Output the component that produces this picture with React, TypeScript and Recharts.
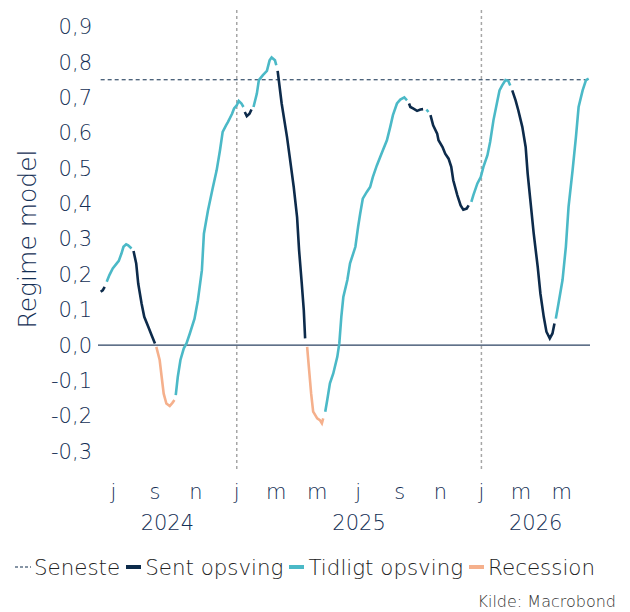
import React from 'react';
import { LineChart, Line, XAxis, YAxis, ReferenceLine } from 'recharts';

// observation dates (weekly-ish regime model readings)
const dates = [
  '2024-06-12', '2024-06-15', '2024-06-18', '2024-06-21', '2024-06-25', '2024-06-30', '2024-07-06', '2024-07-09', '2024-07-13', '2024-07-16',
  '2024-07-20', '2024-07-23', '2024-07-28', '2024-07-31', '2024-08-04', '2024-08-07', '2024-08-12', '2024-08-16', '2024-08-22', '2024-08-27',
  '2024-09-01', '2024-09-03', '2024-09-08', '2024-09-11', '2024-09-14', '2024-09-18', '2024-09-23', '2024-09-27', '2024-09-30', '2024-10-02',
  '2024-10-05', '2024-10-09', '2024-10-14', '2024-10-18', '2024-10-23', '2024-10-30', '2024-11-04', '2024-11-10', '2024-11-13', '2024-11-19',
  '2024-11-26', '2024-12-02', '2024-12-07', '2024-12-11', '2024-12-16', '2024-12-19', '2024-12-25', '2024-12-28', '2025-01-01', '2025-01-04',
  '2025-01-08', '2025-01-11', '2025-01-13', '2025-01-16', '2025-01-20', '2025-01-23', '2025-01-26', '2025-01-31', '2025-02-03', '2025-02-09',
  '2025-02-15', '2025-02-19', '2025-02-22', '2025-02-27', '2025-03-01', '2025-03-03', '2025-03-09', '2025-03-17', '2025-03-21', '2025-03-27',
  '2025-04-01', '2025-04-04', '2025-04-08', '2025-04-11', '2025-04-13', '2025-04-16', '2025-04-19', '2025-04-22', '2025-04-25', '2025-05-01',
  '2025-05-05', '2025-05-08', '2025-05-10', '2025-05-13', '2025-05-16', '2025-05-20', '2025-05-25', '2025-05-31', '2025-06-03', '2025-06-06',
  '2025-06-09', '2025-06-15', '2025-06-19', '2025-06-27', '2025-07-01', '2025-07-04', '2025-07-08', '2025-07-14', '2025-07-19', '2025-07-23',
  '2025-07-29', '2025-08-03', '2025-08-07', '2025-08-13', '2025-08-18', '2025-08-22', '2025-08-28', '2025-09-02', '2025-09-08', '2025-09-12',
  '2025-09-15', '2025-09-17', '2025-09-21', '2025-09-27', '2025-10-02', '2025-10-06', '2025-10-11', '2025-10-14', '2025-10-17', '2025-10-21',
  '2025-10-27', '2025-10-29', '2025-11-04', '2025-11-08', '2025-11-13', '2025-11-17', '2025-11-20', '2025-11-26', '2025-12-01', '2025-12-05',
  '2025-12-10', '2025-12-13', '2025-12-17', '2025-12-20', '2025-12-26', '2025-12-31', '2026-01-04', '2026-01-10', '2026-01-14', '2026-01-19',
  '2026-01-25', '2026-01-28', '2026-02-01', '2026-02-06', '2026-02-10', '2026-02-13', '2026-02-16', '2026-02-21', '2026-02-25', '2026-03-03',
  '2026-03-08', '2026-03-11', '2026-03-15', '2026-03-20', '2026-03-26', '2026-03-30', '2026-04-04', '2026-04-08', '2026-04-13', '2026-04-17',
  '2026-04-20', '2026-04-22', '2026-04-26', '2026-05-02', '2026-05-07', '2026-05-11', '2026-05-17', '2026-05-22', '2026-05-26', '2026-06-01',
  '2026-06-06', '2026-06-10',
];

const regime = [
  0.151, 0.155, 0.165, 0.179, 0.198, 0.217, 0.231, 0.238, 0.259, 0.278,
  0.285, 0.282, 0.273, 0.266, 0.231, 0.174, 0.118, 0.080, 0.052, 0.028,
  0.005, -0.005, -0.042, -0.090, -0.137, -0.165, -0.172, -0.163, -0.155, -0.141,
  -0.090, -0.042, -0.009, 0.005, 0.033, 0.075, 0.127, 0.212, 0.315, 0.380,
  0.443, 0.494, 0.551, 0.603, 0.621, 0.631, 0.654, 0.669, 0.678, 0.690,
  0.683, 0.673, 0.659, 0.647, 0.654, 0.666, 0.673, 0.711, 0.749, 0.763,
  0.775, 0.805, 0.813, 0.805, 0.791, 0.775, 0.683, 0.588, 0.532, 0.447,
  0.362, 0.268, 0.174, 0.099, 0.019, -0.005, -0.071, -0.137, -0.188, -0.207,
  -0.212, -0.221, -0.207, -0.188, -0.155, -0.108, -0.080, -0.033, 0.005, 0.080,
  0.136, 0.184, 0.231, 0.278, 0.334, 0.370, 0.414, 0.433, 0.447, 0.475,
  0.508, 0.532, 0.551, 0.579, 0.617, 0.650, 0.683, 0.694, 0.700, 0.692,
  0.683, 0.673, 0.669, 0.662, 0.666, 0.667, 0.666, 0.659, 0.650, 0.621,
  0.598, 0.579, 0.560, 0.541, 0.527, 0.504, 0.466, 0.424, 0.395, 0.383,
  0.386, 0.395, 0.405, 0.424, 0.457, 0.475, 0.504, 0.537, 0.574, 0.636,
  0.692, 0.720, 0.734, 0.749, 0.747, 0.734, 0.720, 0.692, 0.664, 0.617,
  0.560, 0.485, 0.410, 0.316, 0.221, 0.146, 0.080, 0.038, 0.019, 0.033,
  0.061, 0.075, 0.118, 0.184, 0.278, 0.391, 0.494, 0.588, 0.673, 0.720,
  0.749, 0.753,
];

// regime phase runs: S = sent opsving, T = tidligt opsving, R = recession
const phaseRuns: [string, number][] = [
  ['S', 3], ['T', 10], ['S', 8], ['R', 8], ['T', 23], ['S', 4], ['T', 9], ['S', 10],
  ['R', 8], ['T', 27], ['S', 6], ['T', 2], ['S', 14], ['T', 14], ['S', 15], ['T', 11],
];

const seneste = 0.75;
const yTicks = [-0.3, -0.2, -0.1, 0, 0.1, 0.2, 0.3, 0.4, 0.5, 0.6, 0.7, 0.8, 0.9];
const monthTicks = [
  '2024-07-01', '2024-09-01', '2024-11-01', '2025-01-01', '2025-03-01', '2025-05-01',
  '2025-07-01', '2025-09-01', '2025-11-01', '2026-01-01', '2026-03-01', '2026-05-01',
];
const monthLetters = ['j', 's', 'n', 'j', 'm', 'm', 'j', 's', 'n', 'j', 'm', 'm'];
const yearStarts = ['2025-01-01', '2026-01-01'];
const years = ['2024', '2025', '2026'];
const axisStart = '2024-06-08';
const axisEnd = '2026-06-12';

const NAVY = '#0d2b4b';
const TEAL = '#4bb9c7';
const SALMON = '#f5b08c';
const TEXT = '#142f55';
const FONT = "'DejaVu Sans', sans-serif";

const ts = (d: string) => Date.parse(d + 'T00:00:00Z');

const phases: string[] = [];
phaseRuns.forEach(([p, n]) => {
  for (let k = 0; k < n; k++) phases.push(p);
});

const data = dates.map((d, i) => ({
  t: ts(d),
  sent: phases[i] === 'S' ? regime[i] : null,
  tidligt: phases[i] === 'T' ? regime[i] : null,
  recession: phases[i] === 'R' ? regime[i] : null,
}));

const domain: [number, number] = [ts(axisStart), ts(axisEnd)];
const yearEdges = [domain[0], ...yearStarts.map(ts), domain[1]];
const yearTicks = years.map((_, i) => (yearEdges[i] + yearEdges[i + 1]) / 2);
const monthTickTs = monthTicks.map(ts);

const fmtY = (v: number) => v.toFixed(1).replace('.', ',');

const YTitle = (props: any) => {
  const vb = props.viewBox;
  const cx = vb.x + 27;
  const cy = vb.y + vb.height / 2;
  return (
    <text x={cx} y={cy} transform={`rotate(-90 ${cx} ${cy})`} textAnchor="middle" dominantBaseline="central"
      fill={TEXT} fontSize={25} fontFamily={FONT} fontWeight={300}>
      Regime model
    </text>
  );
};

const legendItems = [
  { name: 'Seneste', color: NAVY, dashed: true },
  { name: 'Sent opsving', color: NAVY },
  { name: 'Tidligt opsving', color: TEAL },
  { name: 'Recession', color: SALMON },
];

export default function App() {
  const tickStyle = { fill: TEXT, fontSize: 21, fontFamily: FONT, fontWeight: 300 };
  return (
    <div style={{ position: 'absolute', left: 0, top: 0, width: 630, height: 612, background: '#fff' }}>
      <LineChart width={630} height={544} data={data} margin={{ top: 9, right: 40, bottom: 0, left: 0 }}>
        <XAxis dataKey="t" type="number" domain={domain} ticks={monthTickTs} interval={0}
          tickFormatter={(v: number) => monthLetters[monthTickTs.indexOf(v)]}
          axisLine={false} tickLine={false} tickSize={0} tickMargin={15} height={30} tick={tickStyle} />
        <XAxis xAxisId="year" dataKey="t" type="number" domain={domain} ticks={yearTicks} interval={0}
          tickFormatter={(v: number) => years[yearTicks.indexOf(v)]}
          axisLine={false} tickLine={false} tickSize={0} tickMargin={16} height={45} tick={tickStyle} />
        <YAxis type="number" domain={[-0.35, 0.95]} ticks={yTicks} interval={0} tickFormatter={fmtY}
          axisLine={false} tickLine={false} tickSize={4} tickMargin={2} width={98} tick={tickStyle}
          label={<YTitle />} />
        <ReferenceLine x={ts(yearStarts[0])} stroke="#a6a6a6" strokeDasharray="3 3" strokeWidth={1.5} />
        <ReferenceLine x={ts(yearStarts[1])} stroke="#a6a6a6" strokeDasharray="3 3" strokeWidth={1.5} />
        <ReferenceLine y={0} stroke="#2b4262" strokeWidth={1.3} />
        <ReferenceLine segment={[{ x: ts(dates[0]), y: seneste }, { x: domain[1], y: seneste }]}
          stroke={NAVY} strokeDasharray="4 3" strokeWidth={1} />
        <Line dataKey="sent" stroke={NAVY} strokeWidth={2.6} dot={false} type="linear" connectNulls={false} isAnimationActive={false} />
        <Line dataKey="tidligt" stroke={TEAL} strokeWidth={2.6} dot={false} type="linear" connectNulls={false} isAnimationActive={false} />
        <Line dataKey="recession" stroke={SALMON} strokeWidth={2.6} dot={false} type="linear" connectNulls={false} isAnimationActive={false} />
      </LineChart>
      <div style={{ position: 'absolute', left: 15, top: 553, height: 28, display: 'flex', alignItems: 'center',
        fontFamily: FONT, fontWeight: 300, fontSize: 21.4, color: '#222', whiteSpace: 'nowrap' }}>
        {legendItems.map((it) => (
          <span key={it.name} style={{ display: 'flex', alignItems: 'center', marginRight: 6 }}>
            <svg width={16} height={6} style={{ marginRight: 3 }}>
              {it.dashed
                ? <line x1={0} y1={3} x2={16} y2={3} stroke={it.color} strokeWidth={1} strokeDasharray="3 2" />
                : <line x1={0} y1={3} x2={15} y2={3} stroke={it.color} strokeWidth={4} />}
            </svg>
            {it.name}
          </span>
        ))}
      </div>
      <div style={{ position: 'absolute', right: 14, top: 592, fontFamily: FONT, fontWeight: 300, fontSize: 16, color: '#333' }}>
        Kilde: Macrobond
      </div>
    </div>
  );
}
